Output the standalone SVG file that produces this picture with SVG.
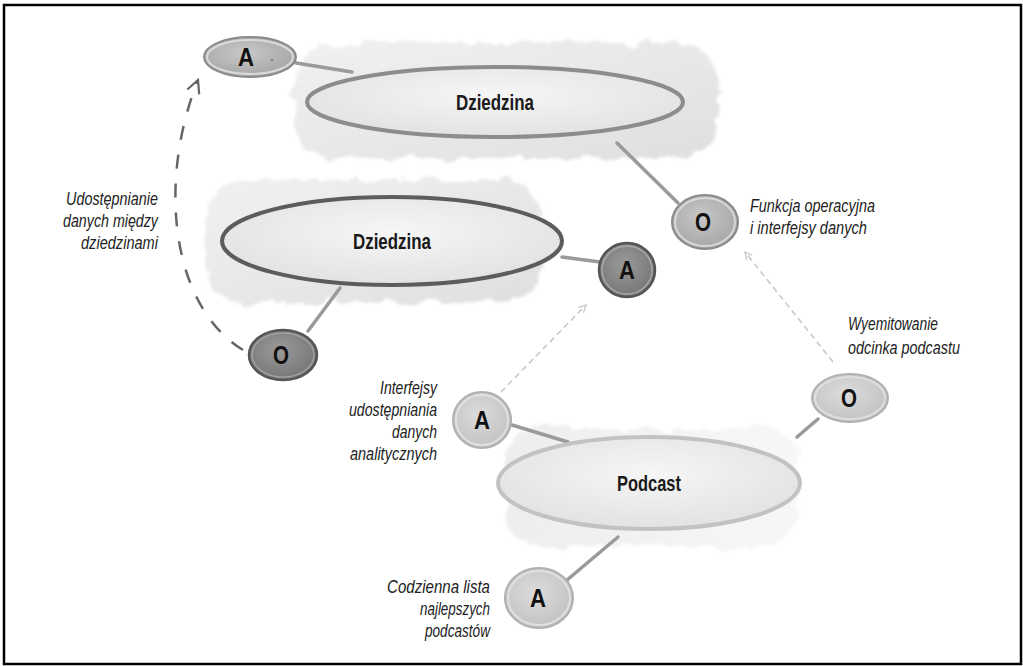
<svg xmlns="http://www.w3.org/2000/svg" width="1023" height="666" viewBox="0 0 1023 666">
  <style>
    .name { font-family: "Liberation Sans Narrow", "Liberation Sans", sans-serif; font-weight: bold; font-size: 22px; fill: #1a1a1a; text-anchor: middle; }
    .port { font-family: "Liberation Sans Narrow", "Liberation Sans", sans-serif; font-weight: bold; font-size: 26px; fill: #111; text-anchor: middle; }
    .note { font-family: "Liberation Sans Narrow", "Liberation Sans", sans-serif; font-style: italic; font-size: 17.5px; fill: #222; }
    .r { text-anchor: end; }
    .link { stroke: #9a9a9a; stroke-width: 3.5; stroke-linecap: round; fill: none; }
    .flow { stroke: #c6c6c6; stroke-width: 1.5; stroke-dasharray: 6 4; fill: none; }
  </style>
  <defs>
    <filter id="rough" x="-10%" y="-20%" width="120%" height="140%">
      <feTurbulence type="fractalNoise" baseFrequency="0.05" numOctaves="3" seed="4" result="n"/>
      <feDisplacementMap in="SourceGraphic" in2="n" scale="16" xChannelSelector="R" yChannelSelector="G" result="d"/>
      <feGaussianBlur in="d" stdDeviation="1.5"/>
    </filter>
    <linearGradient id="cloudA" x1="0" y1="0" x2="1" y2="1">
      <stop offset="0" stop-color="#f1f1f1"/>
      <stop offset="1" stop-color="#dfdfdf"/>
    </linearGradient>
    <linearGradient id="cloudB" x1="0" y1="0" x2="1" y2="0">
      <stop offset="0" stop-color="#eeeeee"/>
      <stop offset="1" stop-color="#f7f7f7"/>
    </linearGradient>
    <radialGradient id="bigFill" cx="0.5" cy="0.4" r="0.6">
      <stop offset="0" stop-color="#f6f6f6"/>
      <stop offset="1" stop-color="#e2e2e2"/>
    </radialGradient>
    <radialGradient id="midPort" cx="0.45" cy="0.4" r="0.6">
      <stop offset="0" stop-color="#c8c8c8"/>
      <stop offset="1" stop-color="#a6a6a6"/>
    </radialGradient>
    <radialGradient id="darkPort" cx="0.45" cy="0.4" r="0.6">
      <stop offset="0" stop-color="#9a9a9a"/>
      <stop offset="1" stop-color="#767676"/>
    </radialGradient>
    <radialGradient id="lightPort" cx="0.45" cy="0.4" r="0.6">
      <stop offset="0" stop-color="#dcdcdc"/>
      <stop offset="1" stop-color="#c2c2c2"/>
    </radialGradient>
    <marker id="chev" viewBox="0 0 10 10" refX="9" refY="5" markerWidth="9" markerHeight="9" orient="auto" markerUnits="userSpaceOnUse">
      <path d="M1,1 L9,5 L1,9" fill="none" stroke="#c6c6c6" stroke-width="1.4"/>
    </marker>
    <marker id="chevDark" viewBox="0 0 10 10" refX="9" refY="5" markerWidth="16" markerHeight="16" orient="auto" markerUnits="userSpaceOnUse">
      <path d="M1,1 L9,5 L1,9" fill="none" stroke="#666" stroke-width="1.4"/>
    </marker>
  </defs>

  <rect width="1023" height="666" fill="#fff"/>
  <rect x="4" y="5" width="1017" height="659" fill="none" stroke="#000" stroke-width="2.5"/>

  <!-- soft backgrounds behind the domains -->
  <g id="clouds">
    <rect x="294" y="42" width="424" height="116" rx="40" fill="url(#cloudA)" filter="url(#rough)"/>
    <rect x="204" y="180" width="338" height="122" rx="40" fill="url(#cloudA)" filter="url(#rough)"/>
    <rect x="508" y="428" width="290" height="118" rx="30" fill="url(#cloudB)" filter="url(#rough)"/>
  </g>

  <!-- connectors -->
  <g id="connectors">
    <line class="link" x1="296" y1="63" x2="352" y2="72"/>
    <line class="link" x1="617" y1="143" x2="678" y2="203"/>
    <line class="link" x1="562" y1="257" x2="600" y2="262" stroke="#6a6a6a"/>
    <line class="link" x1="340" y1="288" x2="308" y2="331" stroke="#6a6a6a"/>
    <line class="link" x1="512" y1="425" x2="568" y2="442" stroke="#bdbdbd" stroke-width="4.5"/>
    <line class="link" x1="797" y1="437" x2="818" y2="419" stroke="#a8a8a8"/>
    <line class="link" x1="618" y1="537" x2="567" y2="580" stroke="#bdbdbd"/>
    <path class="flow" d="M833,362 L745,252" marker-end="url(#chev)"/>
    <path class="flow" d="M501,392 L586,305" marker-end="url(#chev)"/>
    <path d="M243,350 C170,305 158,180 198,80" fill="none" stroke="#666" stroke-width="2.5" stroke-dasharray="14 15" marker-end="url(#chevDark)"/>
  </g>

  <g id="domain-top">
    <ellipse cx="495" cy="102" rx="188" ry="35" fill="url(#bigFill)" stroke="#8c8c8c" stroke-width="4"/>
    <text class="name" x="495" y="110" textLength="78" lengthAdjust="spacingAndGlyphs">Dziedzina</text>
  </g>

  <g id="domain-mid">
    <ellipse cx="392" cy="241" rx="170" ry="44" fill="url(#bigFill)" stroke="#5c5c5c" stroke-width="4"/>
    <text class="name" x="392" y="249" textLength="78" lengthAdjust="spacingAndGlyphs">Dziedzina</text>
  </g>

  <g id="domain-podcast">
    <ellipse cx="649" cy="483" rx="151" ry="46" fill="url(#bigFill)" stroke="#c2c2c2" stroke-width="4"/>
    <text class="name" x="649" y="491" textLength="64" lengthAdjust="spacingAndGlyphs">Podcast</text>
  </g>

  <g id="port-a-top">
    <ellipse cx="250" cy="57" rx="46" ry="20" fill="url(#midPort)" stroke="#8a8a8a" stroke-width="2"/>
    <ellipse cx="250" cy="57" rx="43" ry="17" fill="none" stroke="#dadada" stroke-width="2"/>
    <circle cx="272" cy="60" r="1.5" fill="#888"/>
    <text class="port" x="246" y="66" textLength="16" lengthAdjust="spacingAndGlyphs">A</text>
  </g>

  <g id="port-o-ops">
    <ellipse cx="705" cy="222" rx="33" ry="27" fill="url(#midPort)" stroke="#8a8a8a" stroke-width="2"/>
    <ellipse cx="705" cy="222" rx="30" ry="24" fill="none" stroke="#d8d8d8" stroke-width="2"/>
    <text class="port" x="703" y="231" textLength="16" lengthAdjust="spacingAndGlyphs">O</text>
  </g>

  <g id="port-a-mid">
    <ellipse cx="627" cy="270" rx="28" ry="27" fill="url(#darkPort)" stroke="#555" stroke-width="2.5"/>
    <ellipse cx="627" cy="270" rx="25" ry="24" fill="none" stroke="#a8a8a8" stroke-width="1.5"/>
    <text class="port" x="627" y="279" textLength="16" lengthAdjust="spacingAndGlyphs">A</text>
  </g>

  <g id="port-o-mid">
    <ellipse cx="283" cy="355" rx="34" ry="25" fill="url(#darkPort)" stroke="#555" stroke-width="2.5"/>
    <ellipse cx="283" cy="355" rx="31" ry="22" fill="none" stroke="#a0a0a0" stroke-width="1.5"/>
    <text class="port" x="281" y="364" textLength="16" lengthAdjust="spacingAndGlyphs">O</text>
  </g>

  <g id="port-o-episode">
    <ellipse cx="850" cy="398" rx="38" ry="24" fill="url(#lightPort)" stroke="#b0b0b0" stroke-width="2"/>
    <ellipse cx="850" cy="398" rx="35" ry="21" fill="none" stroke="#dedede" stroke-width="2"/>
    <text class="port" x="849" y="407" textLength="16" lengthAdjust="spacingAndGlyphs">O</text>
  </g>

  <g id="port-a-analytics">
    <ellipse cx="482" cy="420" rx="29" ry="28" fill="url(#lightPort)" stroke="#b0b0b0" stroke-width="2"/>
    <ellipse cx="482" cy="420" rx="26" ry="25" fill="none" stroke="#e0e0e0" stroke-width="2"/>
    <text class="port" x="482" y="429" textLength="16" lengthAdjust="spacingAndGlyphs">A</text>
  </g>

  <g id="port-a-daily">
    <ellipse cx="539" cy="598" rx="34" ry="30" fill="url(#lightPort)" stroke="#b0b0b0" stroke-width="2"/>
    <ellipse cx="539" cy="598" rx="31" ry="27" fill="none" stroke="#e0e0e0" stroke-width="2"/>
    <text class="port" x="538" y="607" textLength="16" lengthAdjust="spacingAndGlyphs">A</text>
  </g>

  <!-- annotations -->
  <g id="labels">
    <text class="note r" x="158" y="205" textLength="92" lengthAdjust="spacingAndGlyphs">Udostępnianie</text>
    <text class="note r" x="158" y="227" textLength="95" lengthAdjust="spacingAndGlyphs">danych między</text>
    <text class="note r" x="158" y="249" textLength="77" lengthAdjust="spacingAndGlyphs">dziedzinami</text>

    <text class="note" x="750" y="212" textLength="125" lengthAdjust="spacingAndGlyphs">Funkcja operacyjna</text>
    <text class="note" x="750" y="234" textLength="117" lengthAdjust="spacingAndGlyphs">i interfejsy danych</text>

    <text class="note" x="848" y="330" textLength="90" lengthAdjust="spacingAndGlyphs">Wyemitowanie</text>
    <text class="note" x="848" y="354" textLength="112" lengthAdjust="spacingAndGlyphs">odcinka podcastu</text>

    <text class="note r" x="437" y="394" textLength="57" lengthAdjust="spacingAndGlyphs">Interfejsy</text>
    <text class="note r" x="437" y="416" textLength="88" lengthAdjust="spacingAndGlyphs">udostępniania</text>
    <text class="note r" x="437" y="438" textLength="45" lengthAdjust="spacingAndGlyphs">danych</text>
    <text class="note r" x="437" y="460" textLength="87" lengthAdjust="spacingAndGlyphs">analitycznych</text>

    <text class="note r" x="490" y="593" textLength="103" lengthAdjust="spacingAndGlyphs">Codzienna lista</text>
    <text class="note r" x="490" y="615" textLength="70" lengthAdjust="spacingAndGlyphs">najlepszych</text>
    <text class="note r" x="490" y="637" textLength="65" lengthAdjust="spacingAndGlyphs">podcastów</text>
  </g>
</svg>
